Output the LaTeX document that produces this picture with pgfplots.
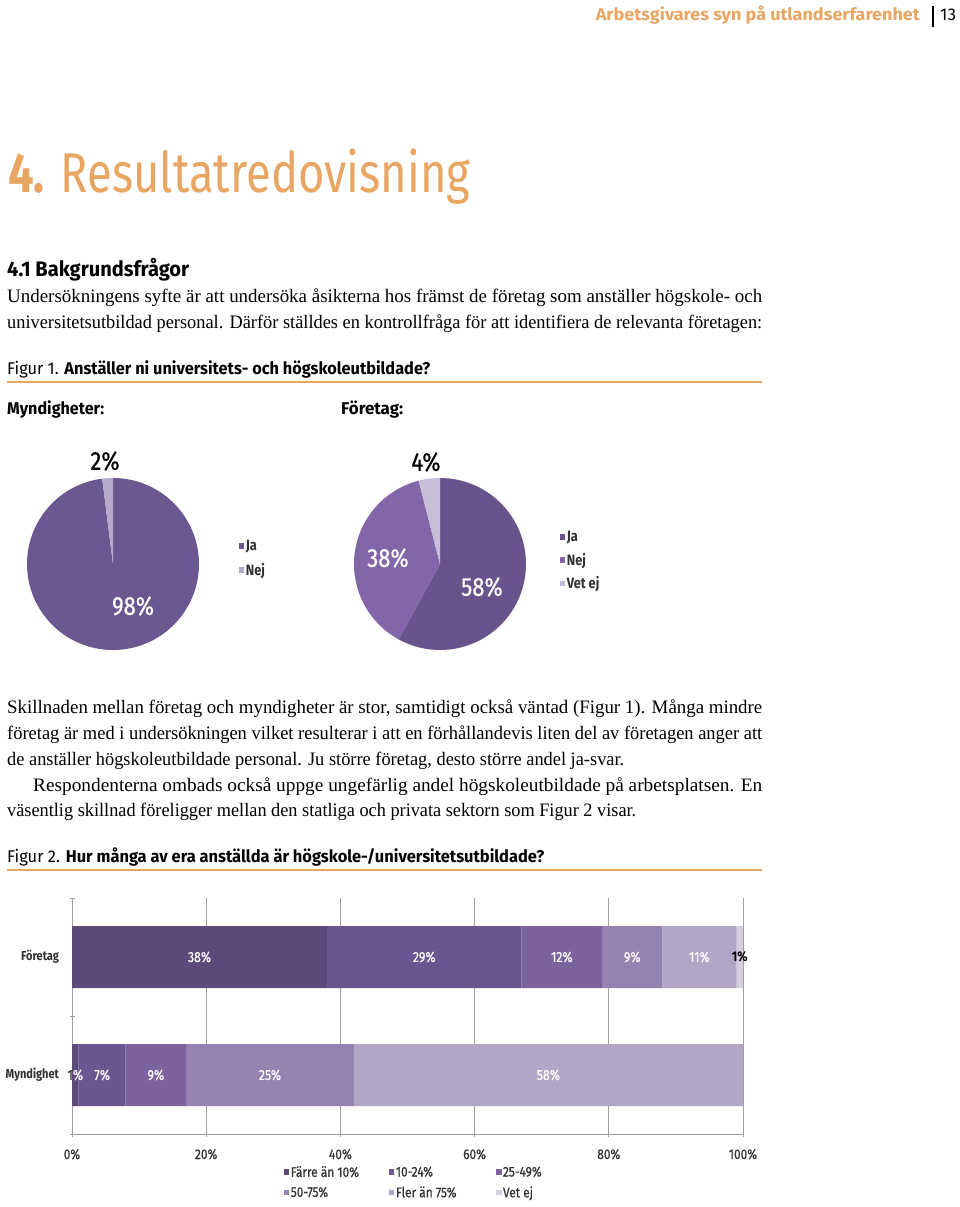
\documentclass[border=0pt]{standalone}
\usepackage{fontspec}
\usepackage{graphicx}
\usepackage{pgfplots}
\pgfplotsset{compat=1.18}
\setmainfont{Liberation Serif}
\newfontfamily\sans{Fira Sans}
\newfontfamily\cond[FakeStretch=0.85]{Fira Sans}
\newfontfamily\condm[FakeStretch=0.85, FakeBold=0.6]{Fira Sans}

\definecolor{orng}{RGB}{233,165,98}
\definecolor{gridgray}{RGB}{160,160,160}
\definecolor{txtgray}{RGB}{50,50,50}
% pie colours
\definecolor{paA}{RGB}{108,88,145}
\definecolor{paB}{RGB}{182,170,204}
\definecolor{pbA}{RGB}{104,83,140}
\definecolor{pbB}{RGB}{131,102,168}
\definecolor{pbC}{RGB}{198,189,214}
% bar colours
\definecolor{cA}{RGB}{94,74,122}
\definecolor{cB}{RGB}{106,86,144}
\definecolor{cC}{RGB}{124,99,158}
\definecolor{cD}{RGB}{150,130,177}
\definecolor{cE}{RGB}{178,166,198}
\definecolor{cF}{RGB}{214,207,224}

\newcommand{\fs}[1]{\fontsize{#1}{#1}\selectfont}
\newcommand{\fit}[2]{\resizebox{#1}{\height}{#2}}

\pgfplotsset{
  sqlegend/.style={legend image code/.code={\fill[##1] (0pt,-2.8pt) rectangle (5.6pt,2.8pt);}},
}

\begin{document}
\begin{tikzpicture}[x=1pt,y=-1pt]
\path[use as bounding box, fill=white] (0,0) rectangle (960,1207);

% ---- page header
\node[anchor=base east, inner sep=0, text=orng] at (920,21)
  {\fit{324pt}{\sans\bfseries\fs{17}Arbetsgivares syn på utlandserfarenhet}};
\draw[line width=1.4pt] (933,6) -- (933,27);
\node[anchor=base west, inner sep=0] at (940,21) {\sans\fs{17}13};

% ---- headings and body text
\node[anchor=base west, inner sep=0, text=orng] at (8,192)
  {\fit{462pt}{\sans\fs{56}{\bfseries 4.} Resultatredovisning}};
\node[anchor=base west, inner sep=0] at (7,276)
  {\fit{182pt}{\sans\bfseries\fs{21}4.1 Bakgrundsfrågor}};
\node[anchor=base west, inner sep=0] at (7,302)
  {\fit{755pt}{\fs{19}Undersökningens syfte är att undersöka åsikterna hos främst de företag som anställer högskole- och}};
\node[anchor=base west, inner sep=0] at (7,328)
  {\fit{755pt}{\fs{19}universitetsutbildad personal. Därför ställdes en kontrollfråga för att identifiera de relevanta företagen:}};

\node[anchor=base west, inner sep=0] at (7,374)
  {\fit{423pt}{\sans\fs{17}Figur 1. {\bfseries Anställer ni universitets- och högskoleutbildade?}}};
\draw[orng, line width=2pt] (7,382) -- (762,382);
\node[anchor=base west, inner sep=0] at (7,414) {\fit{97pt}{\sans\bfseries\fs{17}Myndigheter:}};
\node[anchor=base west, inner sep=0] at (341,414) {\fit{62pt}{\sans\bfseries\fs{17}Företag:}};

\node[anchor=base west, inner sep=0] at (7,713)
  {\fit{755pt}{\fs{19}Skillnaden mellan företag och myndigheter är stor, samtidigt också väntad (Figur 1). Många mindre}};
\node[anchor=base west, inner sep=0] at (7,739)
  {\fit{755pt}{\fs{19}företag är med i undersökningen vilket resulterar i att en förhållandevis liten del av företagen anger att}};
\node[anchor=base west, inner sep=0] at (7,765)
  {\fit{617pt}{\fs{19}de anställer högskoleutbildade personal. Ju större företag, desto större andel ja-svar.}};
\node[anchor=base west, inner sep=0] at (33,791)
  {\fit{729pt}{\fs{19}Respondenterna ombads också uppge ungefärlig andel högskoleutbildade på arbetsplatsen. En}};
\node[anchor=base west, inner sep=0] at (7,816)
  {\fit{629pt}{\fs{19}väsentlig skillnad föreligger mellan den statliga och privata sektorn som Figur 2 visar.}};

\node[anchor=base west, inner sep=0] at (7,862)
  {\fit{537pt}{\sans\fs{17}Figur 2. {\bfseries Hur många av era anställda är högskole-/universitetsutbildade?}}};
\draw[orng, line width=2pt] (7,870) -- (762,870);

% ---- pie 1: Myndigheter (Ja 98, Nej 2)
\begin{axis}[at={(27pt,-650pt)}, anchor=south west, x=86pt, y=86pt,
  xmin=-1, xmax=1, ymin=-1, ymax=1, hide axis, clip=false, sqlegend,
  legend style={at={(1.2297,0.648)}, anchor=north west, draw=none, fill=none,
    inner sep=0pt, row sep=8pt, nodes={inner sep=1.5pt},
    font=\cond\bfseries\fs{15}, text=txtgray},
  legend cell align=left]
\fill[paA] (axis cs:0,0) -- ++(90:86pt) arc[start angle=90, delta angle={-3.6*98}, radius=86pt] -- cycle;
\fill[paB] (axis cs:0,0) -- ++({90-3.6*98}:86pt) arc[start angle={90-3.6*98}, delta angle={-3.6*2}, radius=86pt] -- cycle;
\node[font=\condm\fs{26}, text=black] at (axis cs:-0.093,1.198) {2\%};
\node[font=\condm\fs{26}, text=white] at (axis cs:0.233,-0.488) {98\%};
\addlegendimage{fill=paA, draw=none, sqlegend}
\addlegendentry{Ja}
\addlegendimage{fill=paB, draw=none, sqlegend}
\addlegendentry{Nej}
\end{axis}

% ---- pie 2: Företag (Ja 58, Nej 38, Vet ej 4)
\begin{axis}[at={(354pt,-650pt)}, anchor=south west, x=86pt, y=86pt,
  xmin=-1, xmax=1, ymin=-1, ymax=1, hide axis, clip=false, sqlegend,
  legend style={at={(1.1948,0.7006)}, anchor=north west, draw=none, fill=none,
    inner sep=0pt, row sep=7pt, nodes={inner sep=1.5pt},
    font=\cond\bfseries\fs{15}, text=txtgray},
  legend cell align=left]
\fill[pbA] (axis cs:0,0) -- ++(90:86pt) arc[start angle=90, delta angle={-3.6*58}, radius=86pt] -- cycle;
\fill[pbB] (axis cs:0,0) -- ++({90-3.6*58}:86pt) arc[start angle={90-3.6*58}, delta angle={-3.6*38}, radius=86pt] -- cycle;
\fill[pbC] (axis cs:0,0) -- ++({90-3.6*96}:86pt) arc[start angle={90-3.6*96}, delta angle={-3.6*4}, radius=86pt] -- cycle;
\node[font=\condm\fs{26}, text=black] at (axis cs:-0.163,1.186) {4\%};
\node[font=\condm\fs{26}, text=white] at (axis cs:-0.605,0.07) {38\%};
\node[font=\condm\fs{26}, text=white] at (axis cs:0.488,-0.267) {58\%};
\addlegendimage{fill=pbA, draw=none, sqlegend}
\addlegendentry{Ja}
\addlegendimage{fill=pbB, draw=none, sqlegend}
\addlegendentry{Nej}
\addlegendimage{fill=pbC, draw=none, sqlegend}
\addlegendentry{Vet ej}
\end{axis}

% ---- figure 2: stacked bars
\begin{axis}[at={(72pt,-1134pt)}, anchor=south west, scale only axis,
  width=671pt, height=236pt,
  xbar stacked, bar width=62pt,
  xmin=0, xmax=100, ymin=-0.5, ymax=1.5,
  axis x line*=bottom, axis y line*=left,
  axis line style={draw=gridgray, line width=0.9pt},
  xtick={0,20,40,60,80,100},
  /pgf/number format/assume math mode=true,
  xticklabel={\pgfmathprintnumber{\tick}\%},
  xmajorgrids, grid style={gridgray, line width=0.9pt},
  tick align=center, major tick length=5pt, minor tick length=5pt,
  tick style={gridgray, line width=0.9pt},
  ytick={0,1}, yticklabels={Myndighet,Företag},
  minor ytick={-0.5,0.5,1.5},
  every major y tick/.style={draw=none},
  xticklabel style={font=\condm\fs{14}, text=txtgray, yshift=-9pt},
  yticklabel style={font=\cond\bfseries\fs{13}, text=txtgray, xshift=-7pt},
  sqlegend,
  legend columns=3,
  legend style={at={(0.3152,-0.129)}, anchor=north west, draw=none, fill=none,
    inner sep=0pt, row sep=5pt, nodes={inner sep=1.5pt},
    font=\condm\fs{14}, text=txtgray},
  legend cell align=left]
% x = share, y = 0 Myndighet / 1 Företag
\addplot[fill=cA, draw=none, sqlegend] coordinates {(1,0) (38,1)};
\addplot[fill=cB, draw=none, sqlegend] coordinates {(7,0) (29,1)};
\addplot[fill=cC, draw=none, sqlegend] coordinates {(9,0) (12,1)};
\addplot[fill=cD, draw=none, sqlegend] coordinates {(25,0) (9,1)};
\addplot[fill=cE, draw=none, sqlegend] coordinates {(58,0) (11,1)};
\addplot[fill=cF, draw=none, sqlegend] coordinates {(0,0) (1,1)};
\addlegendentry{\makebox[96.5pt][l]{Färre än 10\%}}
\addlegendentry{\makebox[98.5pt][l]{10-24\%}}
\addlegendentry{25-49\%}
\addlegendentry{\makebox[96.5pt][l]{50-75\%}}
\addlegendentry{\makebox[98.5pt][l]{Fler än 75\%}}
\addlegendentry{Vet ej}
\end{axis}

% value labels, centred in each segment
\begin{axis}[at={(72pt,-1134pt)}, anchor=south west, scale only axis,
  width=671pt, height=236pt,
  xmin=0, xmax=100, ymin=-0.5, ymax=1.5, hide axis, clip=false]
\addplot[only marks, mark=*, mark size=0pt, draw=none,
  nodes near coords, point meta=explicit symbolic,
  every node near coord/.append style={anchor=center, font=\condm\fs{14.5}, text=white}]
  coordinates {(19,1) [38\%] (52.5,1) [29\%] (73,1) [12\%] (83.5,1) [9\%] (93.5,1) [11\%]
               (4.5,0) [7\%] (12.5,0) [9\%] (29.5,0) [25\%] (71,0) [58\%]};
\addplot[only marks, mark=*, mark size=0pt, draw=none,
  nodes near coords, point meta=explicit symbolic,
  every node near coord/.append style={anchor=center, font=\cond\bfseries\fs{14}, text=black}]
  coordinates {(99.5,1) [1\%]};
\addplot[only marks, mark=*, mark size=0pt, draw=none,
  nodes near coords, point meta=explicit symbolic,
  every node near coord/.append style={anchor=center, font=\condm\fs{14.5}, text=white}]
  coordinates {(0.5,0) [{\textcolor{txtgray}{1}\%}]};
\end{axis}
\end{tikzpicture}
\end{document}
